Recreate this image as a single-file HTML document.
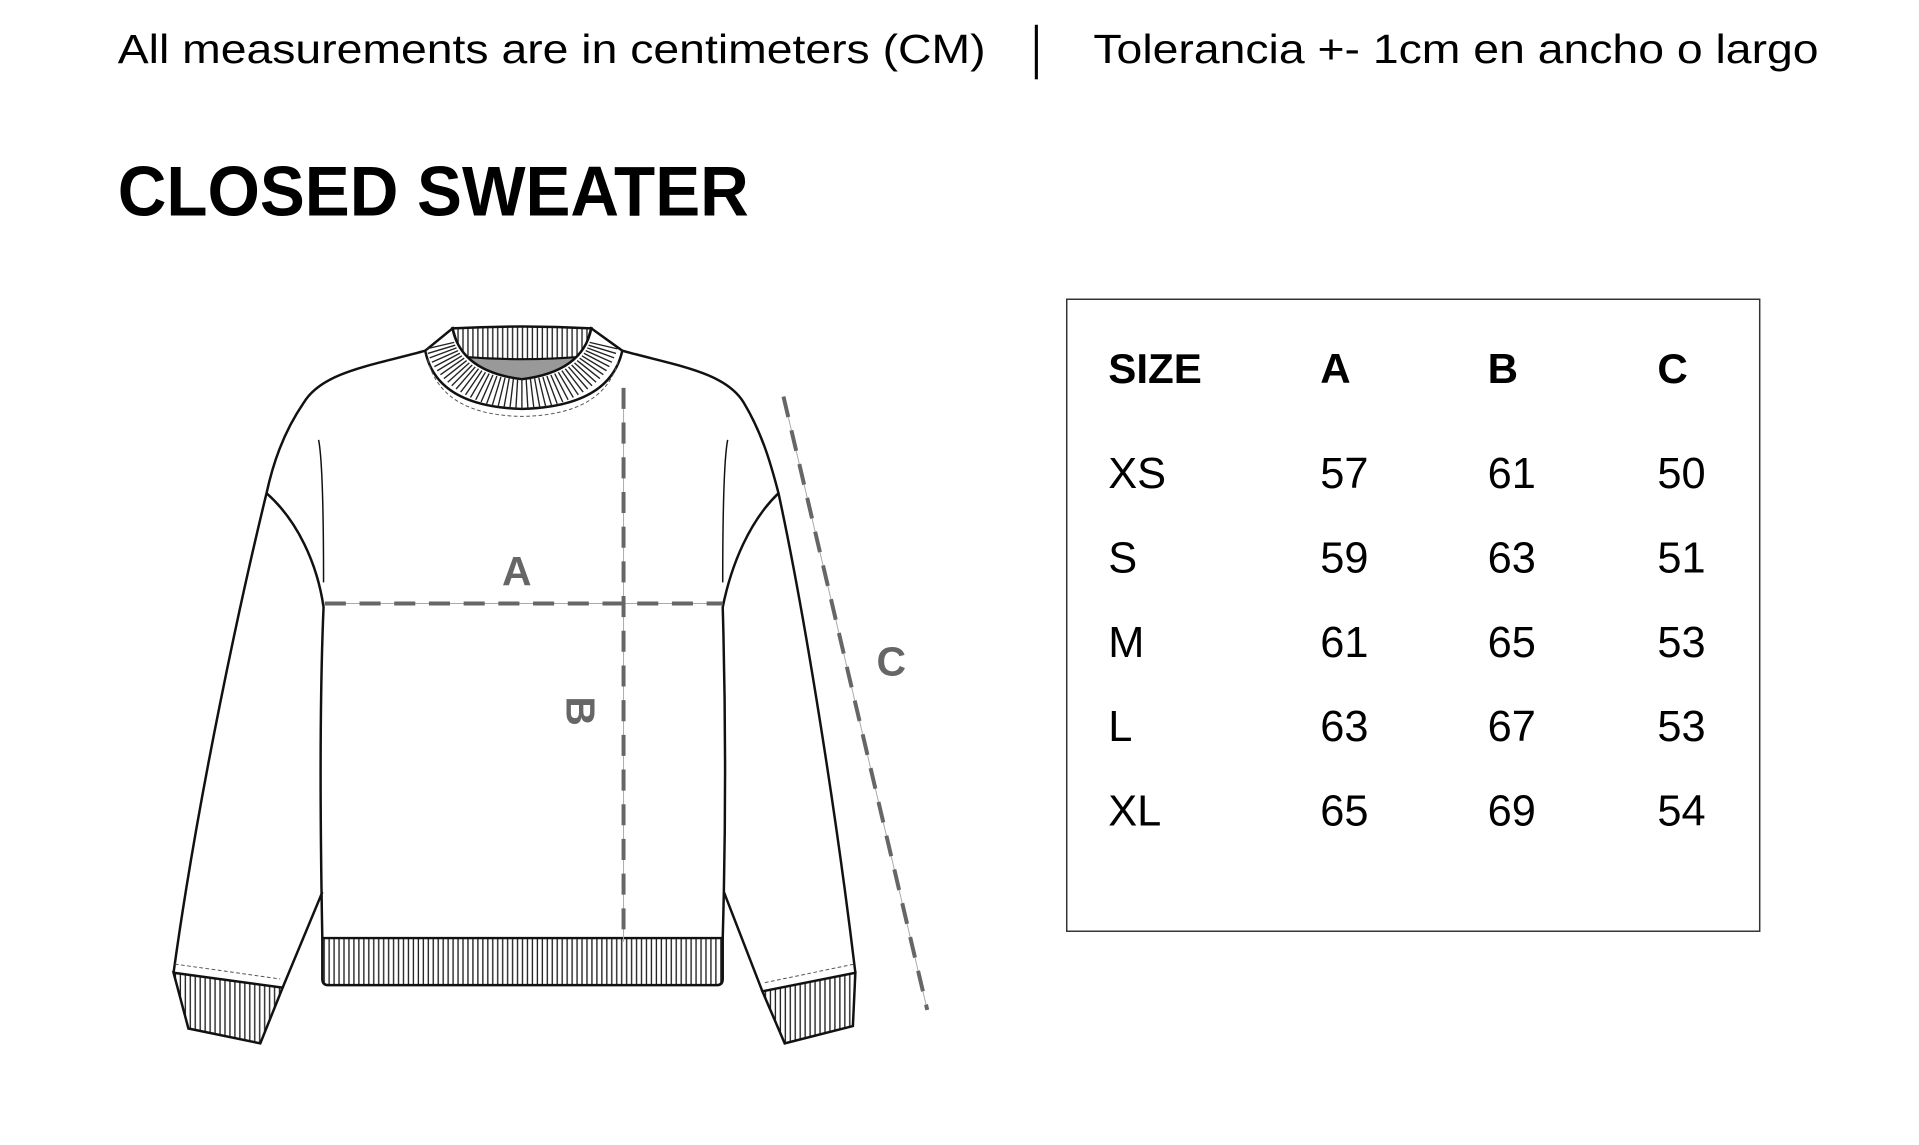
<!DOCTYPE html>
<html><head><meta charset="utf-8"><style>
html,body{margin:0;padding:0;background:#fff;}
svg{display:block;}
text{font-family:"Liberation Sans",Arial,sans-serif;}
</style></head><body>
<svg id="s" width="1919" height="1145" viewBox="0 0 1548 924" preserveAspectRatio="none" xmlns="http://www.w3.org/2000/svg">
<defs>
<pattern id="rib" width="4" height="10" patternUnits="userSpaceOnUse"><rect width="4" height="10" fill="#fff"/><line x1="1.5" y1="0" x2="1.5" y2="10" stroke="#222" stroke-width="1.1"/></pattern>
</defs>
<text x="95" y="51" font-size="33" textLength="700" lengthAdjust="spacingAndGlyphs">All measurements are in centimeters (CM)</text>
<line x1="836" y1="20" x2="836" y2="64" stroke="#000" stroke-width="2.5"/>
<text x="882" y="51" font-size="33" textLength="585" lengthAdjust="spacingAndGlyphs">Tolerancia +- 1cm en ancho o largo</text>
<text x="95" y="174" font-size="57" font-weight="bold" textLength="509" lengthAdjust="spacingAndGlyphs">CLOSED SWEATER</text>

<rect x="860.5" y="241.5" width="559" height="510" fill="none" stroke="#333" stroke-width="1.2"/>
<g font-size="34" font-weight="bold">
<text x="894" y="309">SIZE</text><text x="1065" y="309">A</text><text x="1200" y="309">B</text><text x="1337" y="309">C</text>
</g>
<g font-size="35">
<text x="894" y="394">XS</text><text x="1065" y="394">57</text><text x="1200" y="394">61</text><text x="1337" y="394">50</text>
<text x="894" y="462">S</text><text x="1065" y="462">59</text><text x="1200" y="462">63</text><text x="1337" y="462">51</text>
<text x="894" y="530">M</text><text x="1065" y="530">61</text><text x="1200" y="530">65</text><text x="1337" y="530">53</text>
<text x="894" y="598">L</text><text x="1065" y="598">63</text><text x="1200" y="598">67</text><text x="1337" y="598">53</text>
<text x="894" y="666">XL</text><text x="1065" y="666">65</text><text x="1200" y="666">69</text><text x="1337" y="666">54</text>
</g>

<g fill="none" stroke="#111" stroke-width="2" stroke-linejoin="round">
<!-- body outline -->
<path d="M343,283 C300,295 260,300 245,325 C228,350 220,375 215,398 C195,480 160,640 140,785"/>
<path d="M502,283 C545,295 585,300 600,325 C615,350 622,375 628,398 C650,500 675,660 690,785"/>
<!-- armhole seams -->
<path d="M215,398 C240,420 256,455 261,490 C258,560 258,650 260,757"/>
<path d="M628,398 C605,420 590,455 583,490 C585,560 586,650 583,757"/>
<path d="M257,355 C260,370 261,420 261,470" stroke-width="1.2"/>
<path d="M587,355 C584,370 583,420 583,470" stroke-width="1.2"/>
<!-- inner sleeves -->
<path d="M260,720 L228,797"/>
<path d="M584,720 L615,800"/>
</g>
<!-- hem rib -->
<path d="M260,757 L583,757 L583,790 Q583,795 578,795 L265,795 Q260,795 260,790 Z" fill="url(#rib)" stroke="#111" stroke-width="2"/>
<!-- cuffs -->
<path d="M140,785 L228,797 L210,842 L152,830 Z" fill="url(#rib)" stroke="#111" stroke-width="2"/>
<path d="M615,800 L690,785 L688,828 L633,842 Z" fill="url(#rib)" stroke="#111" stroke-width="2"/>
<path d="M141,778 L226,790" stroke="#555" stroke-width="0.8" stroke-dasharray="3,2" fill="none"/>
<path d="M617,793 L689,778" stroke="#555" stroke-width="0.8" stroke-dasharray="3,2" fill="none"/>
<!-- collar -->
<path d="M365,265 Q421,262 477,265 L470,288 Q421,292 372,288 Z" fill="url(#rib)" stroke="#111" stroke-width="2"/>
<path d="M372,288 Q421,292 470,288 Q450,305 421,306 Q390,305 372,288 Z" fill="#999" stroke="#111" stroke-width="1.5"/>
<path id="front" d="M343,283 L365,265 Q372,300 421,306 Q470,300 477,265 L502,283 Q492,328 421,330 Q352,328 343,283 Z" fill="#fff" stroke="#111" stroke-width="2"/>
<g id="radial" stroke="#222" stroke-width="1.1"></g>
<path d="M345,290 Q356,335 421,336 Q488,335 499,290" fill="none" stroke="#555" stroke-width="0.8" stroke-dasharray="3,2"/>

<!-- measurement lines -->
<line x1="503" y1="313" x2="503" y2="760" stroke="#aaa" stroke-width="0.8"/>
<line x1="632" y1="320" x2="748" y2="815" stroke="#aaa" stroke-width="0.8"/>
<line x1="262" y1="487" x2="583" y2="487" stroke="#aaa" stroke-width="0.8"/>
<g stroke="#666" stroke-width="3.2" stroke-dasharray="17,11" fill="none">
<line x1="262" y1="487" x2="583" y2="487"/>
<line x1="503" y1="313" x2="503" y2="760"/>
<line x1="632" y1="320" x2="748" y2="815"/>
</g>
<g fill="#666" font-weight="bold" font-size="33">
<text x="405" y="472">A</text>
<text x="707" y="545">C</text>
<text transform="translate(457,562) rotate(90)">B</text>
</g>
</svg>
<script>
var g=document.getElementById('radial');var s='';
for(var i=0;i<=44;i++){var t=i/44;var a=Math.PI*(0.93-0.86*t);
var cx=421,cy=268;
var x1=cx+Math.cos(a)*0,y1=0;
// inner point on ellipse rx 56 ry 38, outer rx 80 ry 62
var ix=cx+56*Math.cos(a),iy=cy+38*Math.sin(a);
var ox=cx+79*Math.cos(a),oy=cy+62*Math.sin(a);
s+='<line x1="'+ix+'" y1="'+iy+'" x2="'+ox+'" y2="'+oy+'"/>';}
g.innerHTML=s;
</script>
</body></html>
